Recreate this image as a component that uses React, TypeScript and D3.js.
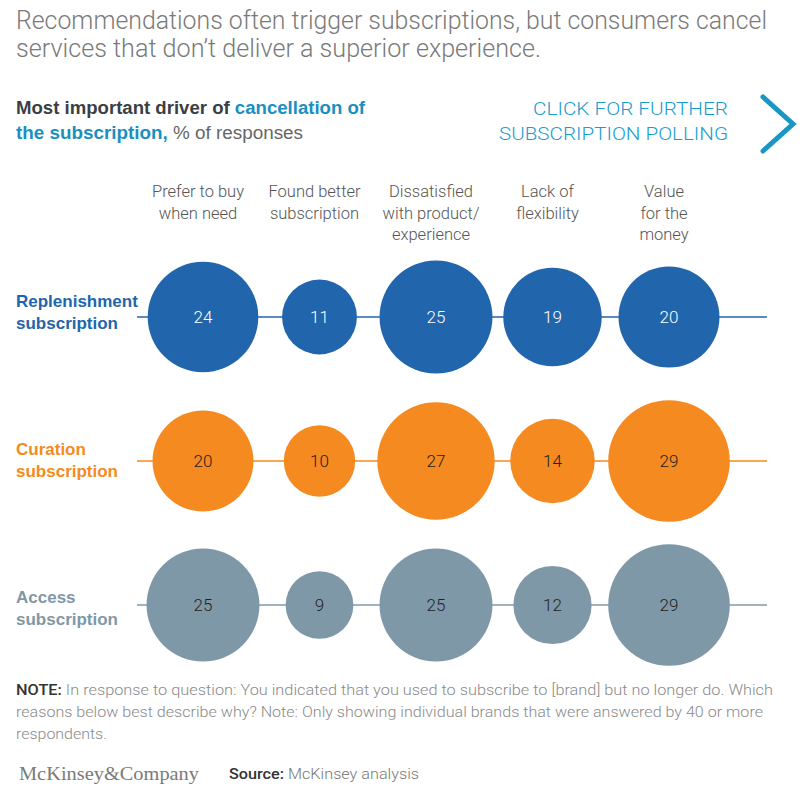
import React from "react";
import * as d3 from "d3";

const categories = [
  ["Prefer to buy", "when need"],
  ["Found better", "subscription"],
  ["Dissatisfied", "with product/", "experience"],
  ["Lack of", "flexibility"],
  ["Value", "for the", "money"],
];
const rowNames = [
  ["Replenishment", "subscription"],
  ["Curation", "subscription"],
  ["Access", "subscription"],
];
const replenishment = [24, 11, 25, 19, 20];
const curation = [20, 10, 27, 14, 29];
const access = [25, 9, 25, 12, 29];

const rowColors = ["#2166ac", "#f58a21", "#7f98a8"];
const textColors = ["#ffffff", "#222222", "#222222"];

const W = 802;
const H = 790;
const SANS = "'Liberation Sans', Arial, sans-serif";
const LIGHT = "Roboto, sans-serif";

export default function App() {
  const series = [replenishment, curation, access];
  const x = d3.scalePoint<number>().domain(d3.range(categories.length)).range([203, 669]);
  const y = d3.scalePoint<number>().domain(d3.range(rowNames.length)).range([317, 605]);
  const labelY = d3.scalePoint<number>().domain(d3.range(rowNames.length)).range([307, 603]);
  const r = d3.scaleSqrt().domain([0, 29]).range([0, 60.8]);

  return (
    <svg width={W} height={H} style={{ position: "absolute", left: 0, top: 0, fontFamily: SANS }}>
      <rect width={W} height={H} fill="#fff" />
      {/* Title */}
      <g fill="#7a7a7a" fontSize={25.5} fontFamily={LIGHT} fontWeight={300}>
        <text x={16} y={29} textLength={751} lengthAdjust="spacingAndGlyphs">Recommendations often trigger subscriptions, but consumers cancel</text>
        <text x={16} y={57} textLength={525} lengthAdjust="spacingAndGlyphs">services that don’t deliver a superior experience.</text>
      </g>
      {/* Subtitle */}
      <g fontSize={17.5} fontWeight={700} fontFamily={SANS}>
        <text x={16} y={114} textLength={349} lengthAdjust="spacingAndGlyphs">
          <tspan fill="#3a3f44">Most important driver of </tspan>
          <tspan fill="#1a8fc0">cancellation of</tspan>
        </text>
        <text x={16} y={139} textLength={287} lengthAdjust="spacingAndGlyphs">
          <tspan fill="#1a8fc0">the subscription, </tspan>
          <tspan fill="#666" fontWeight={400}>% of responses</tspan>
        </text>
      </g>
      <g fontSize={19} fill="#1a9ccc" fontFamily={LIGHT} fontWeight={300}>
        <text x={533} y={115} textLength={195} lengthAdjust="spacingAndGlyphs">CLICK FOR FURTHER</text>
        <text x={499} y={140} textLength={229} lengthAdjust="spacingAndGlyphs">SUBSCRIPTION POLLING</text>
      </g>
      <path d="M763,97 L793,124 L763,151" fill="none" stroke="#1a96c4" strokeWidth={5} strokeLinecap="round" strokeLinejoin="miter" />
      {/* Column headers */}
      <g fontSize={16.5} fill="#555" fontFamily={LIGHT} fontWeight={300} textAnchor="middle">
        {categories.map((lines, i) => (
          <text key={i} x={(x(i) as number) - 5} y={197}>
            {lines.map((l, j) => (
              <tspan key={j} x={(x(i) as number) - 5} dy={j === 0 ? 0 : 21.5}>{l}</tspan>
            ))}
          </text>
        ))}
      </g>
      {/* Rows */}
      {series.map((vals, ri) => (
        <g key={ri}>
          <line x1={137} x2={767} y1={y(ri)} y2={y(ri)} stroke={rowColors[ri]} strokeWidth={1.5} />
          <text x={16} y={labelY(ri)} fill={rowColors[ri]} fontSize={17} fontWeight={700} fontFamily={SANS}>
            {rowNames[ri].map((l, j) => (
              <tspan key={j} x={16} dy={j === 0 ? 0 : 21.5}>{l}</tspan>
            ))}
          </text>
          {vals.map((v, ci) => (
            <g key={ci}>
              <circle cx={x(ci)} cy={y(ri)} r={r(v)} fill={rowColors[ri]} />
              <text x={x(ci)} y={(y(ri) as number) + 6} textAnchor="middle" fontSize={17} fontFamily={LIGHT} fontWeight={300} fill={textColors[ri]}>{v}</text>
            </g>
          ))}
        </g>
      ))}
      {/* Note */}
      <g fontSize={15.5} fill="#8a8a8a" fontFamily={LIGHT} fontWeight={300}>
        <text x={16} y={695} textLength={757} lengthAdjust="spacingAndGlyphs">
          <tspan fill="#333" fontWeight={500}>NOTE:</tspan>
          <tspan> In response to question: You indicated that you used to subscribe to [brand] but no longer do. Which</tspan>
        </text>
        <text x={16} y={717} textLength={747} lengthAdjust="spacingAndGlyphs">reasons below best describe why? Note: Only showing individual brands that were answered by 40 or more</text>
        <text x={16} y={739} textLength={91} lengthAdjust="spacingAndGlyphs">respondents.</text>
      </g>
      {/* Footer */}
      <text x={19} y={780} fontFamily="'Liberation Serif', 'DejaVu Serif', serif" fontSize={19} fill="#7a7a7a" textLength={180} lengthAdjust="spacingAndGlyphs">McKinsey&amp;Company</text>
      <text x={229} y={779} fontSize={15} fontFamily={LIGHT} fontWeight={300} fill="#777" textLength={190} lengthAdjust="spacingAndGlyphs">
        <tspan fill="#333" fontWeight={500}>Source:</tspan>
        <tspan> McKinsey analysis</tspan>
      </text>
    </svg>
  );
}
